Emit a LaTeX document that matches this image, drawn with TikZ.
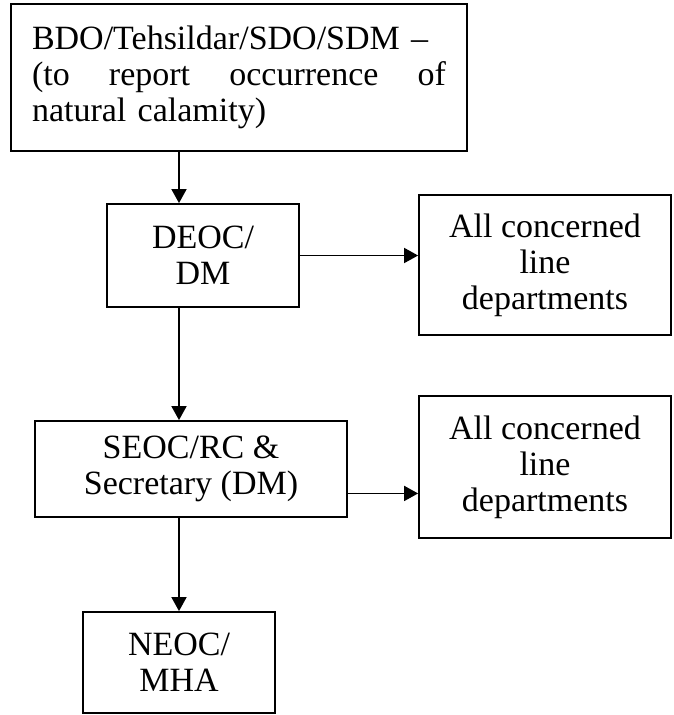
\documentclass[tikz,border=0pt]{standalone}
\usepackage{fontspec}
\setmainfont{Liberation Serif}
\usepackage{tikz}
\usetikzlibrary{arrows.meta,calc}
\tikzset{boxstyle/.style={draw,line width=1.8pt,inner sep=0pt,align=center,font=\fontsize{34}{36}\selectfont}}
\tikzset{arrowstyle/.style={line width=1.8pt,-{Triangle[length=14pt,width=15pt]}}}

\begin{document}
\begin{tikzpicture}[x=1pt,y=-1pt]
            \useasboundingbox (0,0) rectangle (673,715);
            % setup the nodes
            \node[boxstyle,minimum width=456pt,minimum height=147pt,text width=414pt,align=left] (report) at (239,77.5)
                {BDO/Tehsildar/SDO/SDM –\\\leavevmode\hbox to 414pt{(to\hfill report\hfill occurrence\hfill of}\\natural calamity)};
            \node[boxstyle,minimum width=192pt,minimum height=103pt] (deoc) at (203,255.5) {DEOC/\\DM};
            \node[boxstyle,minimum width=252pt,minimum height=140pt] (lineA) at (545,265) {All concerned\\line\\departments};
            \node[boxstyle,minimum width=312pt,minimum height=96pt] (seoc) at (191,469) {SEOC/RC \&\\Secretary (DM)};
            \node[boxstyle,minimum width=252pt,minimum height=142pt] (lineB) at (545,467) {All concerned\\line\\departments};
            \node[boxstyle,minimum width=192pt,minimum height=101pt] (neoc) at (179,662.5) {NEOC/\\MHA};
            \coordinate (seocout) at ($(seoc.east)!0.5!(seoc.south east)$);
            % arrows down the chain and out to the departments
            \draw[arrowstyle] (report.south -| neoc.north) -- (deoc.north -| neoc.north);
            \draw[arrowstyle] (deoc.south -| neoc.north) -- (seoc.north -| neoc.north);
            \draw[arrowstyle] (seoc.south -| neoc.north) -- (neoc.north);
            \draw[arrowstyle] (deoc.east) -- (deoc.east -| lineA.west);
            \draw[arrowstyle] (seocout) -- (seocout -| lineB.west);
        \end{tikzpicture}
\end{document}
